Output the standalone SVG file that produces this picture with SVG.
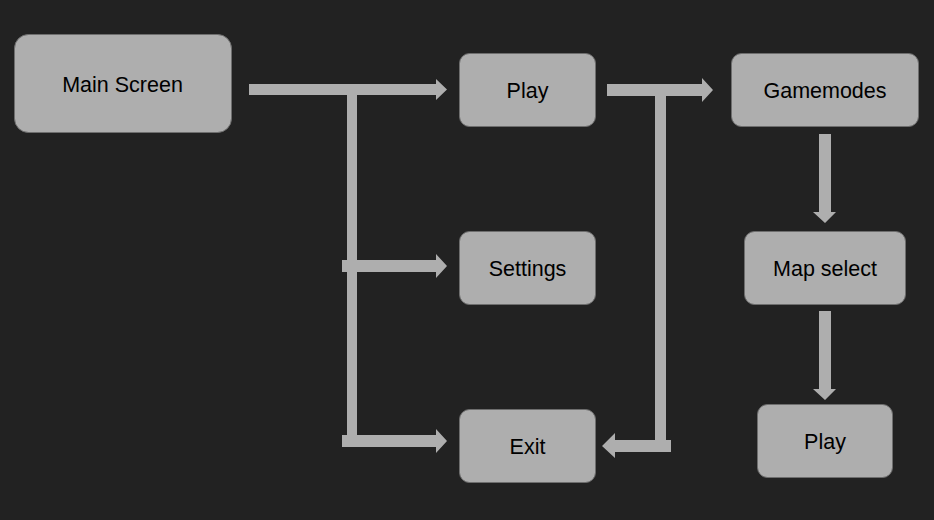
<svg xmlns="http://www.w3.org/2000/svg" width="934" height="520" viewBox="0 0 934 520">
<style>
.node rect{fill:#aeaeae;stroke:#6e6e6e;stroke-width:1}
.node text{font-family:"Liberation Sans",Arial,sans-serif;font-size:21.5px;fill:#000;text-anchor:middle}
.conn *{fill:#aeaeae;stroke:none}
</style>
<rect width="934" height="520" fill="#222222"/>
<g class="conn" id="connectors">
<polygon points="249,84 436,84 436,79 447,89.5 436,100 436,95 249,95"/>
<rect x="347" y="89" width="10" height="352"/>
<polygon points="342,260 436,260 436,254 447,266 436,278 436,272 342,272"/>
<polygon points="342,435 436,435 436,429 447,441 436,453 436,447 342,447"/>
<polygon points="607,84 702,84 702,78 713,90 702,102 702,96 607,96"/>
<rect x="655" y="90" width="11" height="362"/>
<polygon points="671,440 615,440 615,433 602,446 615,458 615,452 671,452"/>
<polygon points="819,134 831,134 831,212 836,212 825,223 813,212 819,212"/>
<polygon points="819,311 831,311 831,389 836,389 825,400 813,389 819,389"/>
</g>
<g class="node" id="main-screen"><rect x="14.5" y="34.5" width="217" height="98" rx="14"/><text x="122.5" y="91.5">Main Screen</text></g>
<g class="node" id="play"><rect x="459.5" y="53.5" width="136" height="73" rx="10"/><text x="527.5" y="97.5">Play</text></g>
<g class="node" id="settings"><rect x="459.5" y="231.5" width="136" height="73" rx="10"/><text x="527.5" y="275.5">Settings</text></g>
<g class="node" id="exit"><rect x="459.5" y="409.5" width="136" height="73" rx="10"/><text x="527.5" y="453.5">Exit</text></g>
<g class="node" id="gamemodes"><rect x="731.5" y="53.5" width="187" height="73" rx="10"/><text x="825" y="97.5">Gamemodes</text></g>
<g class="node" id="map-select"><rect x="744.5" y="231.5" width="161" height="73" rx="10"/><text x="825" y="275.5">Map select</text></g>
<g class="node" id="play-2"><rect x="757.5" y="404.5" width="135" height="73" rx="10"/><text x="825" y="448.5">Play</text></g>
</svg>
